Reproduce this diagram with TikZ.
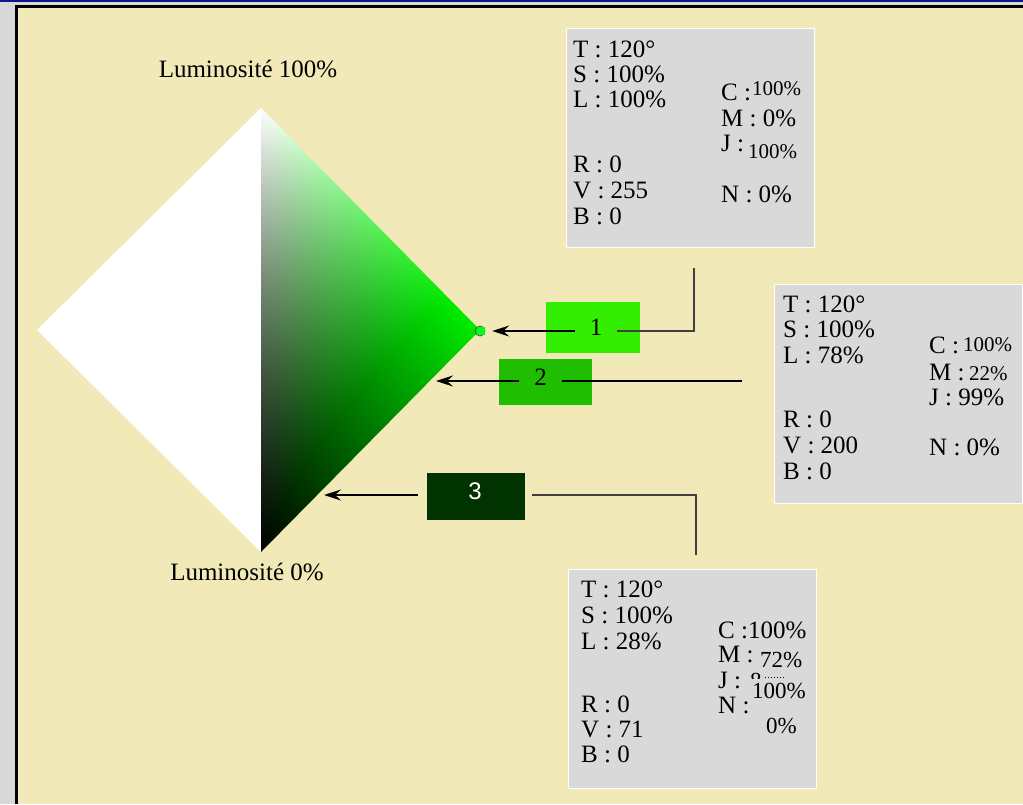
\documentclass[tikz,border=0pt]{standalone}
\usepackage{fontspec}
\setmainfont{Liberation Serif}
\newfontfamily\numfont{Liberation Sans}
\usetikzlibrary{arrows.meta}

\definecolor{bggray}{RGB}{216,216,216}
\definecolor{topblue}{RGB}{20,20,140}
\definecolor{paper}{RGB}{241,233,183}
\definecolor{boxgray}{RGB}{217,217,217}
\definecolor{greenA}{RGB}{51,238,0}
\definecolor{greenB}{RGB}{31,190,0}
\definecolor{greenC}{RGB}{0,51,0}
\definecolor{dotgreen}{RGB}{0,250,30}

% hue 120, x = saturation part, y = luminosity
\pgfdeclarefunctionalshading{hslgreen}{\pgfpointorigin}{\pgfpoint{100bp}{100bp}}{}{
  25 sub 50 div exch 25 sub 50 div exch
  dup dup 1 exch sub mul
  1 index 3 index 2 div add 1 index 0.3 mul sub
  2 index 4 index 2 div sub 2 index 0.6 mul sub
  exch 1 index
  6 3 roll pop pop pop
}

\tikzset{
	>={Stealth[length=17pt,width=11pt,inset=6pt]}, % big arrow heads
	every node/.style={inner sep=0pt},
	txt/.style={anchor=base west, font=\fontsize{25}{26}\selectfont},
	val/.style={anchor=base west, font=\fontsize{21}{22}\selectfont},
	lbl/.style={anchor=base, font=\fontsize{25}{26}\selectfont},
	infobox/.style={draw=white, line width=1pt, fill=boxgray, minimum width=248pt, minimum height=219pt},
	numlabel/.style={font=\fontsize{25}{26}\selectfont, text height=13pt, text depth=5pt},
	pointer/.style={->, line width=2pt, black},
	arrowline/.style={line width=2pt, black},
	link/.style={line width=1.2pt, black!75},
}

\begin{document}
\begin{tikzpicture}[x=1pt, y=-1pt]
		\useasboundingbox (0,0) rectangle (1023,804);
		% page
		\fill[bggray] (0,0) rectangle (1023,804);
		\fill[topblue] (0,0) rectangle (1023,1.5);
		\fill[black] (15,5) rectangle (1023,804);
		\fill[paper] (17.5,7.5) rectangle (1023,804);
		
		% Diamond
		\coordinate (top) at (261,108);
		\coordinate (bot) at (261,552);
		\coordinate (lft) at (37,330);
		\coordinate (rgt) at (480,330);
		\fill[white] (top) -- (lft) -- (bot) -- cycle;
		\shade[shading=hslgreen] (top) -- (rgt) -- (bot) -- cycle;
		\node[lbl] (lum100) at (248,77) {Luminosité 100\%};
		\node[lbl] (lum0) at (247,580) {Luminosité 0\%};
		
		% Marker on the pure colour
		\node[circle, draw=black!70, line width=0.8pt, minimum size=10pt] (ring) at (480,331) {};
		\node[fill=dotgreen, minimum size=8pt] (dot) at (481,331) {};
		
		% Colour boxes
		\node[fill=greenA, minimum width=94pt, minimum height=51pt] (b1) at (593,327.5) {};
		\node[fill=greenB, minimum width=93pt, minimum height=46pt] (b2) at (545.5,382) {};
		\node[fill=greenC, minimum width=98pt, minimum height=47pt] (b3) at (476,496.5) {};
		\node[numlabel, inner xsep=15pt] (n1) at (596,331) {1};
		\node[numlabel, inner xsep=15pt] (n2) at (540.5,381) {2};
		\node[numlabel, inner xsep=50pt, text=white, font=\numfont\fontsize{24}{26}\selectfont] (n3) at (475,495) {3};
		
		% Info boxes
		\node[infobox] (infoA) at (690,138) {};
		\node[infobox] (infoB) at (898,393.5) {};
		\node[infobox] (infoC) at (692,678.5) {};
		
		\node[txt] (aT) at (573,57) {T : 120°};
		\node[txt] (aS) at (573,82) {S : 100\%};
		\node[txt] (aL) at (573,107) {L : 100\%};
		\node[txt] (aR) at (573,172) {R : 0};
		\node[txt] (aV) at (573,198) {V : 255};
		\node[txt] (aB) at (573,224) {B : 0};
		\node[txt] (aC) at (721,100) {C :};
		\node[val] (aCv) at (752,95) {100\%};
		\node[txt] (aM) at (721,126) {M : 0\%};
		\node[txt] (aJ) at (721,151) {J :};
		\node[val] (aJv) at (748,158) {100\%};
		\node[txt] (aN) at (721,202) {N : 0\%};
		
		\node[txt] (bT) at (783,312) {T : 120°};
		\node[txt] (bS) at (783,337) {S : 100\%};
		\node[txt] (bL) at (783,363) {L : 78\%};
		\node[txt] (bR) at (783,427) {R : 0};
		\node[txt] (bV) at (783,453) {V : 200};
		\node[txt] (bB) at (783,479) {B : 0};
		\node[txt] (bC) at (929,353) {C :};
		\node[val] (bCv) at (963,351) {100\%};
		\node[txt] (bM) at (929,380) {M :};
		\node[val] (bMv) at (969,380) {22\%};
		\node[txt] (bJ) at (929,405) {J : 99\%};
		\node[txt] (bN) at (929,455) {N : 0\%};
		
		\node[txt] (cT) at (581,597) {T : 120°};
		\node[txt] (cS) at (581,623) {S : 100\%};
		\node[txt] (cL) at (581,649) {L : 28\%};
		\node[txt] (cR) at (581,712) {R : 0};
		\node[txt] (cV) at (581,737) {V : 71};
		\node[txt] (cB) at (581,762) {B : 0};
		\node[txt] (cC) at (718,638) {C :100\%};
		\node[txt] (cM) at (718,662) {M :};
		\node[val, font=\fontsize{23}{24}\selectfont] (cMv) at (760,667) {72\%};
		\node[txt] (cJ) at (718,688) {J :};
		\begin{scope}
			\clip (745,668) rectangle (790,678);
			\node[val, font=\fontsize{23}{24}\selectfont] (cJh) at (750,688) {8};
		\end{scope}
		\draw[dotted, line width=1pt] (765,677) -- (786,677);
		\node[val, font=\fontsize{23}{24}\selectfont] (cJv) at (752,698) {100\%};
		\node[txt] (cN) at (718,713) {N :};
		\node[val, font=\fontsize{23}{24}\selectfont] (cNv) at (766,733) {0\%};
		
		% Arrows
		\coordinate (t2) at (436,381);
		\coordinate (t3) at (324,495);
		\coordinate (e1) at (694,268);
		\coordinate (e2) at (742,381);
		\coordinate (e3) at (696,555);
		\draw[pointer, shorten >=7pt] (n1) -- (dot);
		\draw[pointer] (n2) -- (t2);
		\draw[pointer] (n3) -- (t3);
		\draw[link] (n1) -| (e1);
		\draw[arrowline] (n2) -- (e2);
		\draw[link] (n3) -| (e3);
		
	\end{tikzpicture}
\end{document}
